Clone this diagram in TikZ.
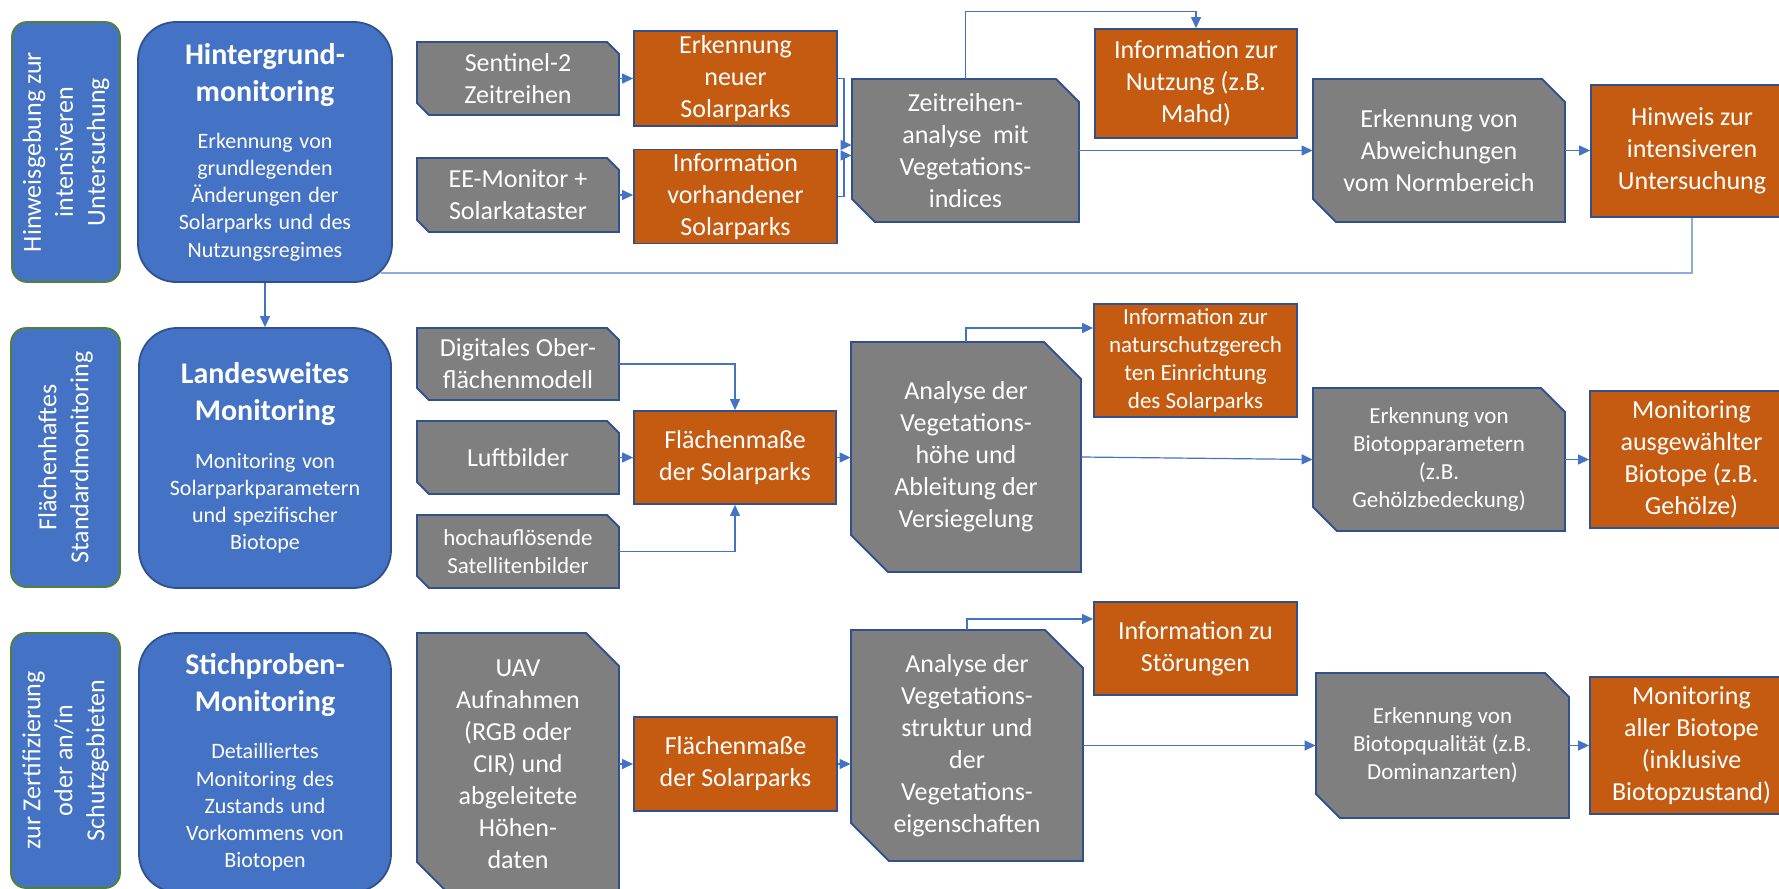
\documentclass[tikz,border=0pt]{standalone}
\usepackage{fontspec}
\setmainfont{Carlito}
\usetikzlibrary{arrows.meta}

\definecolor{boxblue}{HTML}{4472C4}
\definecolor{edgeblue}{HTML}{2F528F}
\definecolor{sidegreen}{HTML}{548235}
\definecolor{boxgray}{HTML}{7F7F7F}
\definecolor{boxorange}{HTML}{C55A11}
\definecolor{lineblue}{HTML}{4472C4}
\definecolor{lightline}{HTML}{8FAADC}

\newcommand{\hdfont}{\fontsize{15}{18.5}\selectfont\bfseries}
\newcommand{\sbfont}{\fontsize{11}{13.6}\selectfont}

% style, name, x1, y1, x2, y2, text
\newcommand{\mkbox}[7]{%
	\node[#1, minimum width={(#5-#3)*0.5pt}, minimum height={(#6-#4)*0.5pt}] (#2) at ({(#3+#5)/2},{(#4+#6)/2}) {#7};}
% style, name, x1, y1, x2, y2, chamfer, text
\newcommand{\mksnip}[8]{%
	\filldraw[snipshape] (#3,#4) -- (#5-#7,#4) -- (#5,#4+#7) -- (#5,#6) -- (#3+#7,#6) -- (#3,#6-#7) -- cycle;
	\mkbox{#1}{#2}{#3}{#4}{#5}{#6}{#8}}

\tikzset{
	every node/.style={text=white, inner sep=2pt},
	mainbox/.style={draw=edgeblue, fill=boxblue, line width=0.9pt, rounded corners=19pt, align=center, text width=120pt},
	sidebox/.style={draw=sidegreen, fill=boxblue, line width=0.9pt, rounded corners=7.5pt, align=center, rotate=90, font=\fontsize{13}{16}\selectfont},
	orangebox/.style={draw=edgeblue, fill=boxorange, line width=0.9pt, align=center, font=\fontsize{13}{16}\selectfont},
	smallorange/.style={orangebox, font=\fontsize{11.5}{14}\selectfont},
	snipshape/.style={draw=edgeblue, fill=boxgray, line width=0.9pt},
	sniptext/.style={align=center, font=\fontsize{13}{16}\selectfont},
	smalltext/.style={align=center, font=\fontsize{11.5}{14}\selectfont},
	arr/.style={draw=lineblue, line width=0.6pt, -{Triangle[length=5.5pt,width=5pt]}},
	backline/.style={draw=lightline, line width=0.8pt}
}

\begin{document}
\begin{tikzpicture}[x=0.5pt, y=-0.5pt]
	\useasboundingbox (0,0) rectangle (1779,889);
	\clip (0,0) rectangle (1779,889);

	% Zeile 1
	\node[sidebox, minimum width=130pt, minimum height=54pt] (side1) at (66,152) {Hinweisgebung zur\\intensiveren\\Untersuchung};
	\mkbox{mainbox}{hgm}{138}{22}{392}{282}{{\hdfont Hintergrund-\\monitoring\par}\vspace{10pt}{\sbfont Erkennung von\\grundlegenden\\Änderungen der\\Solarparks und des\\Nutzungsregimes\par}}
	\mksnip{sniptext}{sent}{417}{42}{619}{115}{12}{Sentinel-2\\Zeitreihen}
	\mksnip{sniptext}{eemon}{417}{158}{619}{232}{12}{EE-Monitor +\\Solarkataster}
	\mkbox{orangebox}{erkneu}{634}{32}{837}{125}{Erkennung\\neuer\\Solarparks}
	\mkbox{orangebox}{infvor}{634}{150}{837}{243}{Information\\vorhandener\\Solarparks}
	\mksnip{sniptext}{zeit}{852}{79}{1079}{222}{23}{Zeitreihen-\\analyse~ mit\\Vegetations-\\indices}
	\mkbox{orangebox}{infnutz}{1095}{29}{1297}{138}{Information zur\\Nutzung (z.B.\\Mahd)}
	\mksnip{sniptext}{abw}{1313}{79}{1565}{222}{23}{Erkennung von\\Abweichungen\\vom Normbereich}
	\mkbox{orangebox}{hinw}{1591}{85}{1793}{217}{Hinweis zur\\intensiveren\\Untersuchung}

	\draw[arr] (sent.east) -- (erkneu.west);
	\draw[arr] (eemon.east) -- (eemon.east -| infvor.west);
	\draw[arr] (erkneu.east) -- ++(6,0) |- ([yshift=2.75pt]zeit.west);
	\draw[arr] (infvor.east) -- ++(6,0) |- ([yshift=-2.5pt]zeit.west);
	\draw[arr] (zeit.north) -- ++(0,-67) -| (infnutz.north);
	\draw[arr] (zeit.east) -- (abw.west);
	\draw[arr] (abw.east) -- (abw.east -| hinw.west);
	\draw[backline] (hinw.south) |- ([xshift=-6pt,yshift=5pt]hgm.south east);

	% Zeile 2
	\node[sidebox, minimum width=129.5pt, minimum height=54.5pt] (side2) at (65.5,457.5) {Flächenhaftes\\Standardmonitoring};
	\mkbox{mainbox}{lmon}{139}{328}{391}{588}{{\hdfont Landesweites\\Monitoring\par}\vspace{10pt}{\sbfont Monitoring von\\Solarparkparametern\\und spezifischer\\Biotope\par}}
	\mksnip{sniptext}{dom}{417}{328}{619}{400}{12}{Digitales Ober-\\flächenmodell}
	\mksnip{sniptext}{luft}{417}{421}{619}{494}{12}{Luftbilder}
	\mksnip{smalltext}{sat}{417}{515}{619}{588}{12}{hochauflösende\\Satellitenbilder}
	\mkbox{orangebox}{flm}{634}{411}{836}{504}{Flächenmaße\\der Solarparks}
	\mksnip{sniptext}{anah}{851}{342}{1081}{572}{37}{Analyse der\\Vegetations-\\höhe und\\Ableitung der\\Versiegelung}
	\mkbox{smallorange}{infnat}{1094}{304}{1297}{417}{Information zur\\naturschutzgerech\\ten Einrichtung\\des Solarparks}
	\mksnip{smalltext}{biop}{1313}{388}{1565}{531}{24}{Erkennung von\\Biotopparametern\\(z.B.\\Gehölzbedeckung)}
	\mkbox{orangebox}{mausg}{1590}{391}{1793}{528}{Monitoring\\ausgewählter\\Biotope (z.B.\\Gehölze)}

	\draw[arr] (hgm.south) -- (lmon.north);
	\draw[arr] (dom.east) -| (flm.north);
	\draw[arr] (luft.east) -- (luft.east -| flm.west);
	\draw[arr] (sat.east) -| (flm.south);
	\draw[arr] (flm.east) -- (flm.east -| anah.west);
	\draw[arr] (anah.north) |- ([yshift=16.25pt]infnat.west);
	\draw[arr] (anah.east) -- (biop.west);
	\draw[arr] (biop.east) -- (biop.east -| mausg.west);

	% Zeile 3
	\node[sidebox, minimum width=127.5pt, minimum height=54.5pt] (side3) at (65.5,760.5) {zur Zertifizierung\\oder an/in\\Schutzgebieten};
	\mkbox{mainbox}{smon}{139}{633}{391}{892}{{\hdfont Stichproben-\\Monitoring\par}\vspace{10pt}{\sbfont Detailliertes\\Monitoring des\\Zustands und\\Vorkommens von\\Biotopen\par}}
	\mksnip{sniptext}{uav}{417}{633}{619}{895}{33}{UAV\\Aufnahmen\\(RGB oder\\CIR) und\\abgeleitete\\Höhen-\\daten}
	\mkbox{orangebox}{flm2}{634}{717}{837}{811}{Flächenmaße\\der Solarparks}
	\mksnip{sniptext}{ana2}{851}{630}{1083}{861}{38}{Analyse der\\Vegetations-\\struktur und\\der\\Vegetations-\\eigenschaften}
	\mkbox{orangebox}{infst}{1094}{602}{1297}{695}{Information zu\\Störungen}
	\mksnip{smalltext}{bioq}{1316}{673}{1569}{818}{24}{Erkennung von\\Biotopqualität (z.B.\\Dominanzarten)}
	\mkbox{orangebox}{maller}{1590}{677}{1793}{814}{Monitoring\\aller Biotope\\(inklusive\\Biotopzustand)}

	\draw[arr] (uav.east) -- (uav.east -| flm2.west);
	\draw[arr] (flm2.east) -- (flm2.east -| ana2.west);
	\draw[arr] (ana2.north) |- ([yshift=14.75pt]infst.west);
	\draw[arr] (ana2.east) -- (ana2.east -| bioq.west);
	\draw[arr] (bioq.east) -- (bioq.east -| maller.west);
\end{tikzpicture}
\end{document}
